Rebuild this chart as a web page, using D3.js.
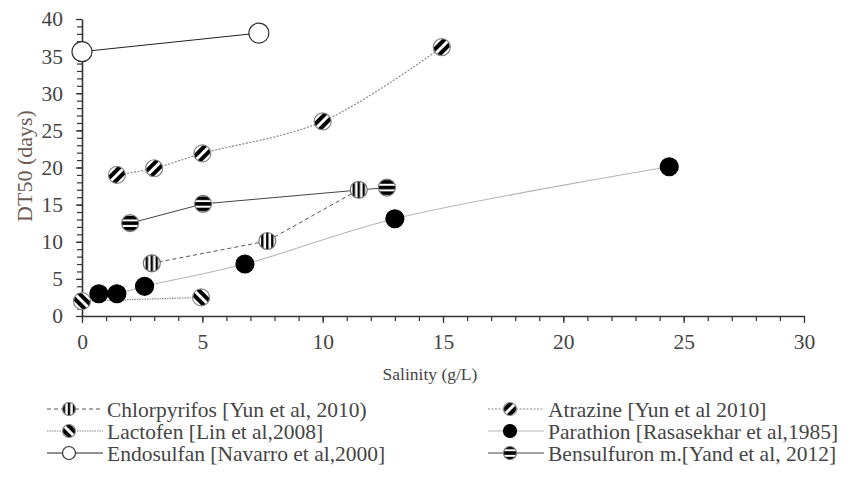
<!DOCTYPE html>
<html><head><meta charset="utf-8">
<script src="https://cdn.jsdelivr.net/npm/d3@7"></script>
<style>
body{margin:0;background:#fff}
text{font-family:"Liberation Serif","Times New Roman",serif}
</style>
</head><body>
<svg id="c" width="854" height="486"></svg>
<script>
// ---- data ----
const xTicks = [0, 5, 10, 15, 20, 25, 30];
const yTicks = [0, 5, 10, 15, 20, 25, 30, 35, 40];
const xLabel = "Salinity (g/L)";
const yLabel = "DT50 (days)";

const chlorpyrifosX = [2.9, 7.7, 11.5];
const chlorpyrifosY = [7.1, 10.1, 17.0];
const atrazineX = [1.45, 3.0, 5.0, 10.0, 14.95];
const atrazineY = [19.0, 19.9, 21.9, 26.2, 36.2];
const lactofenX = [0, 4.95];
const lactofenY = [2.0, 2.5];
const parathionX = [0.7, 1.45, 2.6, 6.77, 13.0, 24.4];
const parathionY = [3.0, 3.0, 4.0, 7.0, 13.1, 20.1];
const endosulfanX = [0, 7.35];
const endosulfanY = [35.6, 38.1];
const bensulfuronX = [2.0, 5.03, 12.67];
const bensulfuronY = [12.5, 15.1, 17.3];

const seriesNames = [
  "Chlorpyrifos [Yun et al, 2010)",
  "Atrazine [Yun et al 2010]",
  "Lactofen [Lin et al,2008]",
  "Parathion [Rasasekhar et al,1985]",
  "Endosulfan [Navarro et al,2000]",
  "Bensulfuron m.[Yand et al, 2012]"
];

// ---- styles ----
const styles = [
  {fill:"url(#pv)", stroke:"#777", line:"#555", dash:"4,3", w:1, curve:d3.curveLinear, r:8.5},
  {fill:"url(#pd1)", stroke:"#888", line:"#888", dash:"2,1.5", w:1.2, curve:d3.curveCatmullRom, r:8.5},
  {fill:"url(#pd2)", stroke:"#888", line:"#888", dash:"1.5,1", w:1.2, curve:d3.curveLinear, r:8.5},
  {fill:"#000", stroke:"#000", line:"#b5b5b5", dash:null, w:1.1, curve:d3.curveCatmullRom, r:9},
  {fill:"#fff", stroke:"#333", line:"#222", dash:null, w:1, curve:d3.curveLinear, r:10},
  {fill:"url(#ph)", stroke:"#777", line:"#444", dash:null, w:1, curve:d3.curveLinear, r:8.5}
];
const seriesData = [
  [chlorpyrifosX, chlorpyrifosY],
  [atrazineX, atrazineY],
  [lactofenX, lactofenY],
  [parathionX, parathionY],
  [endosulfanX, endosulfanY],
  [bensulfuronX, bensulfuronY]
];

const svg = d3.select("#c");
const defs = svg.append("defs");
function stripePat(id, size, off, bw, rot, horiz){
  const p = defs.append("pattern").attr("id", id).attr("patternUnits","userSpaceOnUse")
    .attr("width", size).attr("height", size);
  if (horiz) p.attr("y", off); else p.attr("x", off);
  if (rot) p.attr("patternTransform", `rotate(${rot})`);
  p.append("rect").attr("width", size).attr("height", size).attr("fill", "#fff");
  if (horiz) p.append("rect").attr("width", size).attr("height", bw).attr("fill", "#000");
  else p.append("rect").attr("width", bw).attr("height", size).attr("fill", "#000");
}
stripePat("pv", 5, -1.2, 2.4, 0, false);
stripePat("ph", 5.6, -1.8, 3.6, 0, true);
stripePat("pd1", 7, 1.5, 4, 45, false);
stripePat("pd2", 7, 1.5, 4, -45, false);

const x = d3.scaleLinear().domain([0, 30]).range([82, 804]);
const y = d3.scaleLinear().domain([0, 40]).range([316, 19]);

const textColor = "#454545";
const serif = '"Liberation Serif","Times New Roman",serif';

// minor ticks
const minorX = d3.range(0, 31, 1);
const minorY = d3.range(0, 41, 1);
svg.append("g").attr("transform", "translate(0,316)")
  .call(d3.axisBottom(x).tickValues(minorX).tickSize(5).tickFormat(""))
  .call(g => { g.select(".domain").remove(); g.selectAll("line").attr("stroke", "#333").attr("stroke-width", 1.2); });
svg.append("g").attr("transform", "translate(82,0)")
  .call(d3.axisLeft(y).tickValues(minorY).tickSize(5).tickFormat(""))
  .call(g => { g.select(".domain").remove(); g.selectAll("line").attr("stroke", "#333").attr("stroke-width", 1.2); });

// major axes
svg.append("g").attr("transform", "translate(0,316)")
  .call(d3.axisBottom(x).tickValues(xTicks).tickSize(7).tickSizeOuter(0).tickPadding(11).tickFormat(d3.format("d")))
  .call(g => {
    g.attr("font-family", serif);
    g.select(".domain").attr("stroke", "#333").attr("stroke-width", 1.6);
    g.selectAll("line").attr("stroke", "#333").attr("stroke-width", 1.2);
    g.selectAll("text").attr("font-size", 21.5).attr("fill", textColor);
  });
svg.append("g").attr("transform", "translate(82,0)")
  .call(d3.axisLeft(y).tickValues(yTicks).tickSize(6).tickSizeOuter(0).tickPadding(13).tickFormat(d3.format("d")))
  .call(g => {
    g.attr("font-family", serif);
    g.select(".domain").attr("stroke", "#333").attr("stroke-width", 1.6);
    g.selectAll("line").attr("stroke", "#333").attr("stroke-width", 1.2);
    g.selectAll("text").attr("font-size", 21.5).attr("fill", textColor);
  });

// axis titles
svg.append("text").attr("x", 430).attr("y", 380).attr("text-anchor", "middle")
  .attr("font-size", 17.5).attr("fill", textColor).text(xLabel);
svg.append("text").attr("transform", "translate(24,166) rotate(-90)").attr("text-anchor", "middle")
  .attr("dy", "0.35em").attr("font-size", 22).attr("fill", "#6a5a52").text(yLabel);

// lines
seriesData.forEach((s, i) => {
  const st = styles[i];
  const pts = s[0].map((v, k) => [v, s[1][k]]);
  const line = d3.line().x(d => x(d[0])).y(d => y(d[1])).curve(st.curve);
  svg.append("path").attr("d", line(pts)).attr("fill", "none")
    .attr("stroke", st.line).attr("stroke-width", st.w)
    .attr("stroke-dasharray", st.dash);
});

function marker(g, st, r){
  g.append("circle").attr("r", r).attr("fill", st.fill)
    .attr("stroke", st.stroke).attr("stroke-width", 1.2);
}
// markers
seriesData.forEach((s, i) => {
  const st = styles[i];
  s[0].forEach((v, k) => {
    const g = svg.append("g").attr("transform", `translate(${x(v)},${y(s[1][k])})`);
    marker(g, st, st.r);
  });
});

// legend
const legX = [47, 488];
const legRowY = [409, 431, 453];
seriesNames.forEach((name, i) => {
  const st = styles[i];
  const col = i % 2, row = Math.floor(i / 2);
  const lx = legX[col], ly = legRowY[row];
  svg.append("line").attr("x1", lx).attr("x2", lx + 56).attr("y1", ly).attr("y2", ly)
    .attr("stroke", st.line).attr("stroke-width", st.w).attr("stroke-dasharray", st.dash);
  const g = svg.append("g").attr("transform", `translate(${lx + 22},${ly})`);
  marker(g, st, 6.5);
  svg.append("text").attr("x", lx + 60).attr("y", ly).attr("dy", "0.35em")
    .attr("font-size", 21.5).attr("fill", textColor).text(name);
});
</script>
</body></html>
